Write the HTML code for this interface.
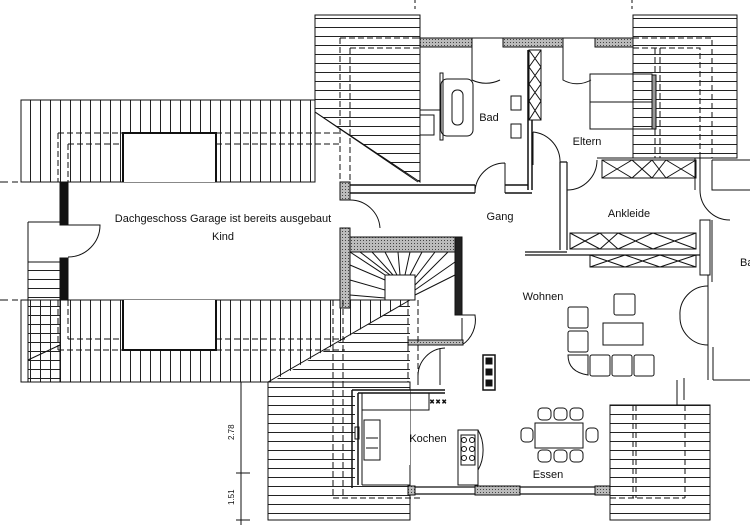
<!DOCTYPE html>
<html><head><meta charset="utf-8"><style>
html,body{margin:0;padding:0;background:#fff;}
svg{display:block;}
text{font-family:"Liberation Sans",sans-serif;fill:#111;}
</style></head><body>
<svg width="750" height="525" viewBox="0 0 750 525" xmlns="http://www.w3.org/2000/svg">
<defs>
<pattern id="h" width="10" height="9" patternUnits="userSpaceOnUse"><line x1="0" y1="0.5" x2="10" y2="0.5" stroke="#222" stroke-width="1"/></pattern>
<pattern id="v" width="10" height="10" patternUnits="userSpaceOnUse"><line x1="0.5" y1="0" x2="0.5" y2="10" stroke="#222" stroke-width="1"/></pattern>
<pattern id="g" width="3" height="3" patternUnits="userSpaceOnUse"><rect width="3" height="3" fill="#bbb"/><rect width="1" height="1" fill="#444"/></pattern>
</defs>
<g stroke="#111" fill="none" stroke-width="1">
<rect x="21" y="100" width="294" height="82" fill="url(#v)"/>
<rect x="123" y="133" width="93" height="49" fill="#fff" stroke="none"/>
<path d="M123 182V133H216V182" stroke-width="2"/>
<path d="M58 133H123M216 133H340M68 144H123M216 144H340M58 133V182M68 144V182" stroke-dasharray="6,3"/>
<rect x="21" y="300" width="387" height="82" fill="url(#v)"/>
<polygon points="270,383 410,300 410,383" fill="#fff" stroke="none"/>
<polygon points="270,383 410,300 410,383" fill="url(#h)" stroke="none"/>
<rect x="123" y="300" width="93" height="50" fill="#fff" stroke="none"/>
<path d="M123 300V350H216V300" stroke-width="2"/>
<path d="M68 339H123M216 339H345M58 350H123M216 350H345M68 300V339M58 300V350" stroke-dasharray="6,3"/>
<line x1="268" y1="382" x2="410" y2="300"/>
<rect x="28" y="262" width="32" height="120" fill="url(#h)"/>
<line x1="28" y1="360" x2="60" y2="345"/>
<rect x="60" y="182" width="8" height="43" fill="#111"/>
<rect x="60" y="258" width="8" height="42" fill="#111"/>
<path d="M28 222V262M28 222H60"/>
<path d="M68 225H100A32 32 0 0 1 68 257"/>
<line x1="0" y1="182" x2="18" y2="182" stroke-dasharray="8,4"/>
<line x1="0" y1="300" x2="18" y2="300" stroke-dasharray="8,4"/>
<polygon points="315,15 420,15 420,182 315,112" fill="url(#h)"/>
<line x1="315" y1="112" x2="418" y2="182"/>
<path d="M340 38V185M350 48V185" stroke-dasharray="6,3"/>
<path d="M340 38H420M350 48H420" stroke-dasharray="6,3"/>
<rect x="633" y="15" width="104" height="143" fill="url(#h)"/>
<path d="M633 38H712V158M633 48H700V158M655 48V158M660 48V158" stroke-dasharray="6,3"/>
<line x1="415" y1="0" x2="415" y2="12" stroke-dasharray="3,3"/>
<line x1="632" y1="0" x2="632" y2="12" stroke-dasharray="3,3"/>
<line x1="418" y1="38" x2="633" y2="38"/>
<rect x="420" y="38" width="52" height="9" fill="url(#g)"/>
<rect x="503" y="38" width="60" height="9" fill="url(#g)"/>
<rect x="595" y="38" width="38" height="9" fill="url(#g)"/>
<path d="M472 47V80A32 32 0 0 0 500 80"/>
<path d="M563 47V80A28 28 0 0 0 591 80"/>
<rect x="441" y="79" width="32" height="57" rx="6"/>
<rect x="452" y="90" width="11" height="35" rx="5"/>
<rect x="440" y="73" width="3" height="67"/>
<path d="M420 110H440"/>
<path d="M420 115h14v20h-14z"/>
<path d="M511 96h10v14h-10z M511 124h10v14h-10z"/>
<rect x="529" y="50" width="12" height="70"/>
<path d="M529 50l12 17M541 50l-12 17M529 67l12 17M541 67l-12 17M529 84l12 17M541 84l-12 17M529 101l12 19M541 101l-12 19"/>
<path d="M528 50V190M532 120V190" stroke-width="1.5"/>
<rect x="590" y="74" width="62" height="55"/>
<line x1="590" y1="102" x2="652" y2="102"/>
<rect x="652" y="75" width="4" height="54" fill="#999"/>
<path d="M350 185H475M505 185H528M350 193H475M505 193H532" stroke-width="1.5"/>
<path d="M475 193A30 30 0 0 1 505 163M475 185V193M505 163V193"/>
<path d="M533 132A30 30 0 0 1 560 160V163M533 132V165"/>
<rect x="340" y="182" width="10" height="18" fill="url(#g)"/>
<path d="M350 200A30 30 0 0 1 380 228"/>
<path d="M560 162V250M567 162V250M560 162H567" stroke-width="1.2"/>
<path d="M567 190A30 30 0 0 0 597 160"/>
<path d="M597 158H700V190M695 158V190"/>
<rect x="602" y="160" width="94" height="18"/>
<path d="M602 160l30 18M632 160l-30 18M632 160l20 18M652 160l-20 18M652 160l14 18M666 160l-14 18M666 160l30 18M696 160l-30 18"/>
<rect x="570" y="233" width="126" height="16"/>
<path d="M570 233l30 16M600 233l-30 16M600 233l18 16M618 233l-18 16M618 233l35 16M653 233l-35 16M653 233l43 16M696 233l-43 16"/>
<rect x="590" y="255" width="106" height="12"/>
<path d="M590 255l35 12M625 255l-35 12M625 255l35 12M660 255l-35 12M660 255l36 12M696 255l-36 12"/>
<path d="M525 252H567M525 255H700" stroke-width="1.2"/>
<path d="M700 190A30 30 0 0 0 730 220"/>
<path d="M700 190V160M708 220V285M712 160V190H750" />
<rect x="700" y="220" width="10" height="55" fill="#fff"/>
<path d="M712 220V282M708 282V380M713 347V380M713 380H750M712 160H750"/>
<path d="M708 286A28 28 0 0 0 680 316A28 28 0 0 0 708 345"/>
<rect x="343" y="237" width="117" height="15" fill="url(#g)"/>
<rect x="340" y="228" width="10" height="80" fill="url(#g)"/>
<rect x="455" y="237" width="7" height="78" fill="#222"/>
<rect x="385" y="275" width="30" height="25"/>
<path d="M350 252L385 275M360 252L390 275M372 252L393 275M385 252L397 275M398 252L400 275M410 252L405 275M422 252L410 275M435 252L415 278M448 252L415 285M455 262L415 290M455 275L415 295M350 265L385 280M350 280L385 290M350 295L385 298"/>
<path d="M462 315H475A30 30 0 0 1 462 345M462 318V345"/>
<rect x="408" y="340" width="55" height="5" fill="url(#g)"/>
<path d="M440 348V385M445 348A28 28 0 0 0 418 376M418 376V385"/>
<path d="M408 300V382M418 300V385" stroke-dasharray="6,3"/>
<rect x="268" y="382" width="142" height="138" fill="url(#h)"/>
<rect x="355" y="390" width="55" height="95" fill="#fff" stroke="none"/>
<path d="M333 300V498M343 300V498M333 498H420" stroke-dasharray="6,3"/>
<path d="M352 390V488M358 393V485M352 390H445M358 393H445" stroke-width="1.5"/>
<path d="M362 393V485M362 485H410M410 465V485"/>
<rect x="362" y="393" width="67" height="17"/>
<text x="430" y="404" font-size="7">× × ×</text>
<rect x="364" y="420" width="16" height="40"/>
<rect x="355" y="427" width="4" height="12"/>
<path d="M366 438h12M366 448h12"/>
<rect x="458" y="430" width="20" height="55"/>
<rect x="461" y="435" width="14" height="30"/>
<circle cx="464" cy="440" r="2.5"/><circle cx="472" cy="440" r="2.5"/><circle cx="464" cy="449" r="2.5"/><circle cx="472" cy="449" r="2.5"/><circle cx="464" cy="458" r="2.5"/><circle cx="472" cy="458" r="2.5"/>
<path d="M478 430A20 30 0 0 1 478 470"/>
<path d="M410 487H610M410 494H610" stroke-width="1.2"/>
<rect x="408" y="486" width="7" height="9" fill="url(#g)"/>
<rect x="475" y="486" width="45" height="9" fill="url(#g)"/>
<rect x="595" y="486" width="15" height="9" fill="url(#g)"/>
<rect x="483" y="355" width="12" height="35" fill="#fff" stroke-width="1.5"/>
<rect x="486" y="358" width="6" height="6" fill="#111"/><rect x="486" y="369" width="6" height="6" fill="#111"/><rect x="486" y="380" width="6" height="6" fill="#111"/>
<rect x="614" y="294" width="21" height="21" rx="2"/>
<rect x="568" y="307" width="20" height="21" rx="2"/>
<rect x="568" y="331" width="20" height="21" rx="2"/>
<path d="M568 355Q568 372 588 375V355Z"/>
<rect x="590" y="355" width="20" height="21" rx="2"/>
<rect x="612" y="355" width="20" height="21" rx="2"/>
<rect x="634" y="355" width="20" height="21" rx="2"/>
<rect x="603" y="323" width="40" height="22"/>
<rect x="535" y="423" width="48" height="25"/>
<rect x="538" y="408" width="13" height="12" rx="4"/><rect x="554" y="408" width="13" height="12" rx="4"/><rect x="570" y="408" width="13" height="12" rx="4"/>
<rect x="538" y="450" width="13" height="12" rx="4"/><rect x="554" y="450" width="13" height="12" rx="4"/><rect x="570" y="450" width="13" height="12" rx="4"/>
<rect x="521" y="428" width="12" height="14" rx="4"/><rect x="586" y="428" width="12" height="14" rx="4"/>
<rect x="610" y="405" width="100" height="115" fill="url(#h)"/>
<path d="M610 405H677V380M684 378V400"/>
<path d="M633 405V498M636 405V498M685 405V498M610 498H685" stroke-dasharray="6,3"/>
<path d="M241 382V525M236 382H250M236 473H250M236 520H250"/>
</g>
<text x="223" y="222" font-size="11" text-anchor="middle">Dachgeschoss Garage ist bereits ausgebaut</text>
<text x="223" y="240" font-size="11" text-anchor="middle">Kind</text>
<text x="489" y="121" font-size="11" text-anchor="middle">Bad</text>
<text x="587" y="145" font-size="11" text-anchor="middle">Eltern</text>
<text x="500" y="220" font-size="11" text-anchor="middle">Gang</text>
<text x="629" y="217" font-size="11" text-anchor="middle">Ankleide</text>
<text x="543" y="300" font-size="11" text-anchor="middle">Wohnen</text>
<text x="428" y="442" font-size="11" text-anchor="middle">Kochen</text>
<text x="548" y="478" font-size="11" text-anchor="middle">Essen</text>
<text x="740" y="266" font-size="11">Ba</text>
<text x="0" y="0" font-size="8" transform="translate(234,440) rotate(-90)">2.78</text>
<text x="0" y="0" font-size="8" transform="translate(234,505) rotate(-90)">1.51</text>
</svg>
</body></html>
